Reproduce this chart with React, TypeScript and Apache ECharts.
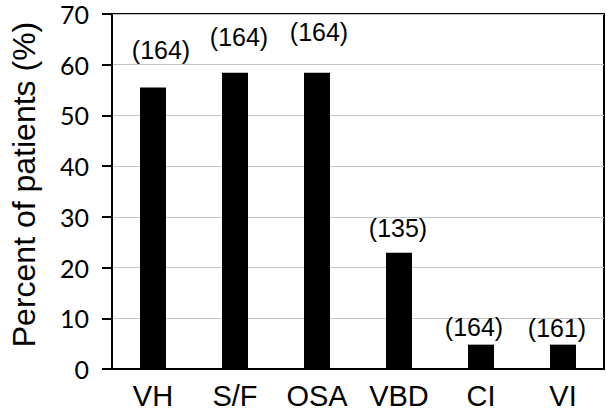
import React, { useEffect, useRef } from "react";
import * as echarts from "echarts";

const categories = ["VH", "S/F", "OSA", "VBD", "CI", "VI"];
const percentValues = [55.5, 58.4, 58.4, 22.9, 4.8, 4.8];
const patientCounts = [164, 164, 164, 135, 164, 161];
const yTicks = [0, 10, 20, 30, 40, 50, 60, 70];

// label placement styling (gap above bar, horizontal nudge)
const labelGaps = [25, 23, 28, 12, 5, 4];
const labelNudges = [8, 4, 2, -1, -7, -6];

export default function App() {
  const ref = useRef<HTMLDivElement>(null);
  useEffect(() => {
    if (!ref.current) return;
    const chart = echarts.init(ref.current, undefined, { renderer: "svg" });
    chart.setOption({
      animation: false,
      backgroundColor: "#ffffff",
      grid: {
        left: 103,
        right: 2,
        top: 14,
        bottom: 39,
        show: true,
        borderColor: "#000",
        borderWidth: 2,
        backgroundColor: "transparent",
      },
      xAxis: {
        type: "category",
        data: categories,
        axisLine: { lineStyle: { color: "#000", width: 2 } },
        axisTick: { show: false },
        axisLabel: {
          color: "#000",
          fontFamily: "Liberation Sans",
          fontSize: 29,
          margin: 12,
        },
      },
      yAxis: {
        type: "value",
        min: yTicks[0],
        max: yTicks[yTicks.length - 1],
        interval: 10,
        name: "Percent of patients (%)",
        nameLocation: "middle",
        nameGap: 72,
        nameTextStyle: {
          color: "#000",
          fontFamily: "Liberation Sans",
          fontSize: 32,
          padding: [0, 0, 0, 14],
        },
        axisLine: { show: true, lineStyle: { color: "#000", width: 2 } },
        axisTick: { show: true, length: 10, lineStyle: { color: "#000", width: 2 } },
        axisLabel: {
          color: "#000",
          fontFamily: "Lato",
          fontSize: 25,
          margin: 23,
        },
        splitLine: { show: true, lineStyle: { color: "#c4c4c4", width: 1 } },
      },
      series: [
        {
          type: "bar",
          barWidth: 26,
          itemStyle: { color: "#000" },
          data: percentValues.map((v, i) => ({
            value: v,
            label: {
              show: true,
              position: "top",
              distance: labelGaps[i],
              offset: [labelNudges[i], 0],
              formatter: `(${patientCounts[i]})`,
              color: "#000",
              fontFamily: "Liberation Sans",
              fontSize: 25,
              lineHeight: 25,
            },
          })),
        },
      ],
    });
    return () => chart.dispose();
  }, []);
  return <div ref={ref} style={{ width: 606, height: 410, position: "fixed", left: 0, top: 0 }} />;
}
